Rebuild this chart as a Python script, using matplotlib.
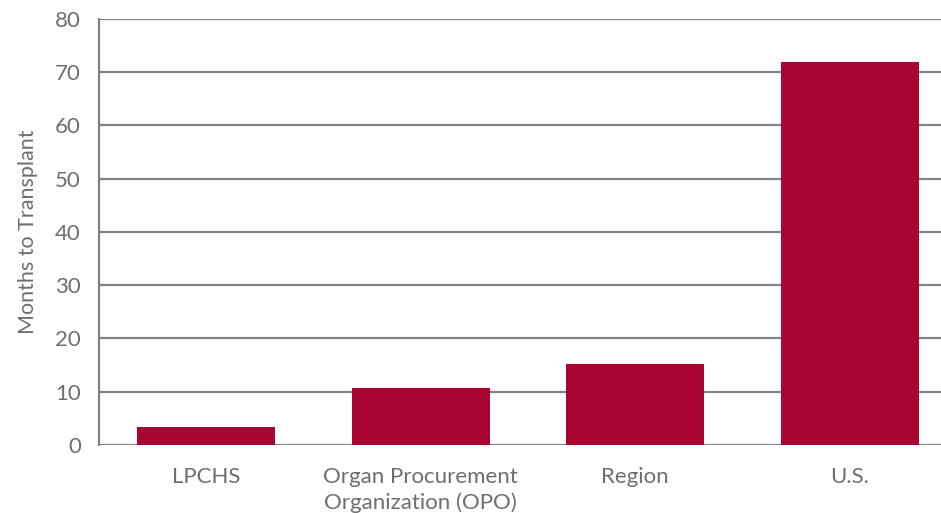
import matplotlib
matplotlib.use("Agg")
from matplotlib import pyplot as plt

categories = ["LPCHS", "Organ Procurement\nOrganization (OPO)", "Region", "U.S."]
months = [3.4, 10.7, 15.2, 72.0]
yticks = [0, 10, 20, 30, 40, 50, 60, 70, 80]

plt.rcParams["font.family"] = ["Lato", "DejaVu Sans"]
text_color = "#6d6e71"
grid_color = "#808285"

fig = plt.figure(figsize=(9.41, 5.13), dpi=100)
ax = fig.add_axes([0.1052, 0.1326, 0.8948, 0.8304])

x = range(len(categories))
ax.bar(x, months, width=0.643, color="#a80533", zorder=3)

ax.set_ylim(0, 80)
ax.set_xlim(-0.5, 3.425)
ax.set_yticks(yticks)
ax.set_xticks(list(x))
ax.set_xticklabels(categories, linespacing=1.3)
ax.yaxis.grid(True, color=grid_color, linewidth=1.6, zorder=0)

for side in ["top", "right", "bottom"]:
    ax.spines[side].set_visible(False)
ax.spines["left"].set_color(grid_color)
ax.spines["left"].set_linewidth(1.6)

ax.tick_params(axis="both", length=0, labelsize=16, colors=text_color)
ax.tick_params(axis="y", pad=13)
ax.tick_params(axis="x", pad=16)
ax.set_ylabel("Months to Transplant", fontsize=15.5, color=text_color, labelpad=12)

fig.savefig("out.png", dpi=100)
